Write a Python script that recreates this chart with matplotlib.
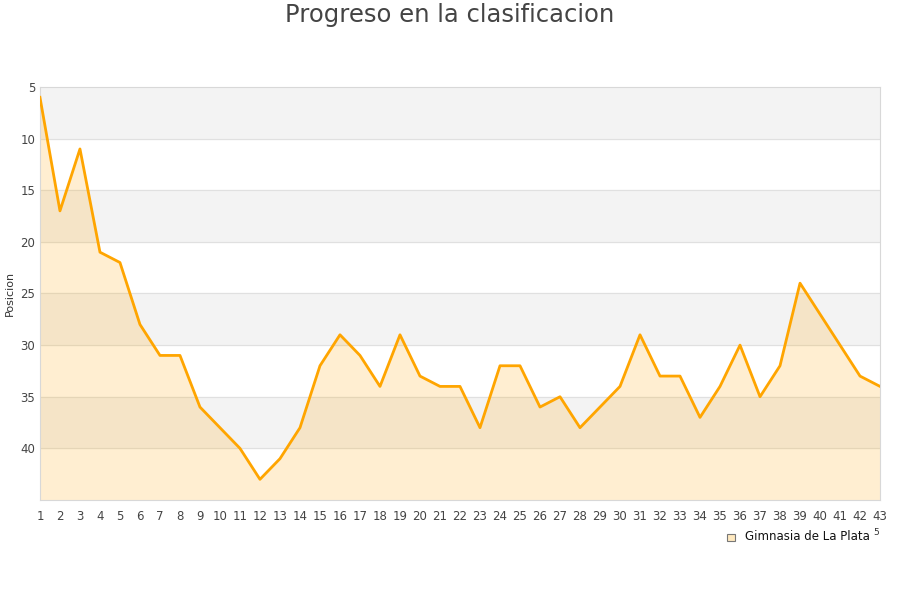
import matplotlib.pyplot as plt
from matplotlib.patches import Rectangle

jornadas = list(range(1, 44))
posicion = [6, 17, 11, 21, 22, 28, 31, 31, 36, 38, 40, 43, 41, 38, 32, 29, 31, 34, 29, 33,
            34, 34, 38, 32, 32, 36, 35, 38, 36, 34, 29, 33, 33, 37, 34, 30, 35, 32, 24, 27,
            30, 33, 34]
equipo = "Gimnasia de La Plata"
bandas = [(5, 10), (15, 20), (25, 30), (35, 40)]

fig = plt.figure(figsize=(9, 6), dpi=100)
ax = fig.add_axes([0.0444, 0.1667, 0.9334, 0.6883])

for a, b in bandas:
    ax.axhspan(a, b, color="#f3f3f3", zorder=0)
for y in range(10, 45, 5):
    ax.axhline(y, color="#e0e0e0", lw=0.8, zorder=1)

ax.fill_between(jornadas, posicion, 45, color="#ffa500", alpha=0.18, lw=0, zorder=2)
ax.plot(jornadas, posicion, color="#ffa500", lw=2.0, zorder=3)

ax.set_xlim(1, 43)
ax.set_ylim(45, 5)
ax.set_xticks(jornadas)
ax.set_yticks(range(5, 45, 5))
ax.tick_params(length=0, labelsize=8.5, colors="#444444")
ax.tick_params(axis="x", pad=7)
for s in ax.spines.values():
    s.set_color("#d8d8d8")
ax.set_ylabel("Posicion", fontsize=8, color="#333333", labelpad=4)

fig.text(0.5, 0.975, "Progreso en la clasificacion", ha="center", va="center",
         fontsize=17.5, color="#444444")

# leyenda
fig.patches.append(Rectangle((0.8078, 0.0983), 0.0085, 0.0125, transform=fig.transFigure,
                             facecolor="#ffe9bf", edgecolor="#777777", lw=0.8))
fig.text(0.828, 0.105, equipo, fontsize=8.5, color="#111111", va="center")
fig.text(0.970, 0.113, "5", fontsize=6.5, color="#333333", va="center")

fig.savefig("out.png")
